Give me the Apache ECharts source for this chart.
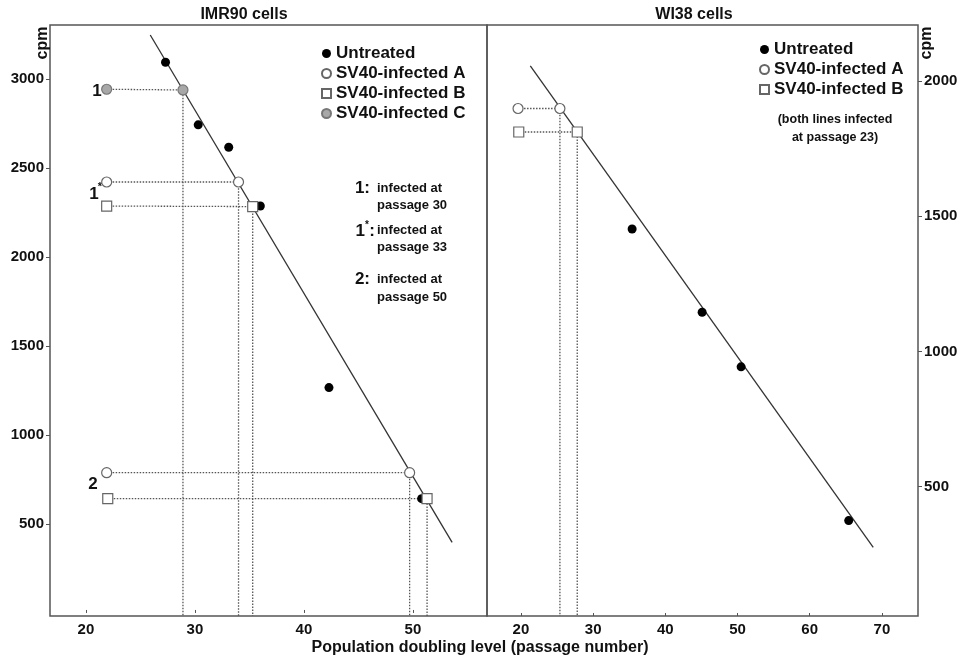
<!DOCTYPE html>
<html>
<head>
<meta charset="utf-8">
<script src="https://cdn.jsdelivr.net/npm/echarts@6/dist/echarts.min.js"></script>
<style>
  html, body { margin: 0; padding: 0; background: #fff; }
  #chart { width: 967px; height: 663px; }
</style>
</head>
<body>
<div id="chart"></div>
<script>
// IMR90 panel
const imrUntreatedX = [27.3, 30.3, 33.1, 36.0, 42.3, 50.8];
const imrUntreatedY = [3094, 2742, 2616, 2286, 1266, 642];
// each infected line: [reference point at left, measured point]
const imrInfectedA = [[[21.9, 2421], [34.0, 2421]], [[21.9, 788], [49.7, 788]]];
const imrInfectedB = [[[21.9, 2286], [35.3, 2283]], [[22.0, 642], [51.3, 642]]];
const imrInfectedC = [[[21.9, 2942], [28.9, 2938]]];
const imrFit = [[25.9, 3247], [53.6, 397]];

// WI38 panel
const wiUntreatedX = [35.4, 45.1, 50.5, 65.4];
const wiUntreatedY = [1453, 1145, 943, 374];
const wiInfectedA = [[[19.6, 1899], [25.4, 1899]]];
const wiInfectedB = [[[19.7, 1812], [27.8, 1812]]];
const wiFit = [[21.3, 2057], [68.8, 275]];

// ticks
const imrXTicks = [20, 30, 40, 50];
const imrYTicks = [500, 1000, 1500, 2000, 2500, 3000];
const wiXTicks = [20, 30, 40, 50, 60, 70];
const wiYTicks = [500, 1000, 1500, 2000];

const imrX = { min: 16.7, max: 56.8 }, imrY = { min: -17, max: 3303 };
const wiX = { min: 15.3, max: 75 }, wiY = { min: 21, max: 2208 };

const FONT = 'Liberation Sans, Arial, sans-serif';
const axisColor = '#555';
const textColor = '#111';

function zip(xs, ys) { return xs.map((x, i) => [x, ys[i]]); }

function dropLines(pairs, yMin) {
  // horizontal from reference point to measured point, then straight down to the axis
  return pairs.map(p => ({ coords: [p[0], p[1], [p[1][0], yMin]] }));
}

function xAxisOf(idx, range, ticks) {
  return {
    type: 'value', gridIndex: idx, min: range.min, max: range.max,
    axisLine: { show: false },
    axisTick: { show: true, inside: true, length: 3, customValues: ticks, lineStyle: { color: axisColor } },
    axisLabel: { customValues: ticks, margin: 6, color: textColor, fontFamily: FONT, fontWeight: 'bold', fontSize: 15,
      formatter: v => String(v) },
    splitLine: { show: false }
  };
}
function yAxisOf(idx, range, ticks, pos) {
  return {
    type: 'value', gridIndex: idx, min: range.min, max: range.max, position: pos,
    axisLine: { show: false },
    axisTick: { show: true, inside: false, length: 4, customValues: ticks, lineStyle: { color: axisColor } },
    axisLabel: { customValues: ticks, margin: 6, color: textColor, fontFamily: FONT, fontWeight: 'bold', fontSize: 15,
      formatter: v => String(v) },
    splitLine: { show: false }
  };
}

const openStyle = { color: '#fff', borderColor: '#666', borderWidth: 1.2, opacity: 1 };
const greyStyle = { color: '#a8a8a8', borderColor: '#777', borderWidth: 1.2, opacity: 1 };
const blackStyle = { color: '#000', opacity: 1 };
const dotLine = { color: '#555', width: 1.3, type: [1.5, 1.5], opacity: 1 };

function scatter(name, data, g, symbol, style, size) {
  return {
    name: name, type: 'scatter', xAxisIndex: g, yAxisIndex: g, data: data,
    symbol: symbol, symbolSize: size, itemStyle: style, z: 5
  };
}

const option = {
  animation: false,
  backgroundColor: '#fff',
  grid: [
    { left: 50, top: 25, width: 437, height: 591, show: true, borderColor: axisColor, borderWidth: 1.5, backgroundColor: 'transparent' },
    { left: 487, top: 25, width: 431, height: 591, show: true, borderColor: axisColor, borderWidth: 1.5, backgroundColor: 'transparent' }
  ],
  xAxis: [xAxisOf(0, imrX, imrXTicks), xAxisOf(1, wiX, wiXTicks)],
  yAxis: [yAxisOf(0, imrY, imrYTicks, 'left'), yAxisOf(1, wiY, wiYTicks, 'right')],
  legend: [
    {
      orient: 'vertical', left: 316, top: 40, itemWidth: 9, itemHeight: 9, itemGap: 3,
      textStyle: { color: textColor, fontFamily: FONT, fontWeight: 'bold', fontSize: 17 },
      data: ['Untreated', 'SV40-infected A', 'SV40-infected B', 'SV40-infected C'],
      selectedMode: false
    },
    {
      orient: 'vertical', left: 754, top: 36, itemWidth: 9, itemHeight: 9, itemGap: 3,
      textStyle: { color: textColor, fontFamily: FONT, fontWeight: 'bold', fontSize: 17 },
      data: ['Untreated', 'SV40-infected A', 'SV40-infected B'],
      selectedMode: false
    }
  ],
  series: [
    // IMR90
    { type: 'lines', coordinateSystem: 'cartesian2d', xAxisIndex: 0, yAxisIndex: 0, polyline: true, silent: true, z: 1,
      lineStyle: dotLine,
      data: dropLines(imrInfectedA.concat(imrInfectedB, imrInfectedC), imrY.min) },
    { type: 'line', xAxisIndex: 0, yAxisIndex: 0, data: imrFit, showSymbol: false, z: 2,
      lineStyle: { color: '#333', width: 1.3 } },
    scatter('Untreated', zip(imrUntreatedX, imrUntreatedY), 0, 'circle', blackStyle, 9),
    scatter('SV40-infected A', imrInfectedA.flat(), 0, 'circle', openStyle, 10),
    scatter('SV40-infected B', imrInfectedB.flat(), 0, 'rect', openStyle, 10),
    scatter('SV40-infected C', imrInfectedC.flat(), 0, 'circle', greyStyle, 10),
    // WI38
    { type: 'lines', coordinateSystem: 'cartesian2d', xAxisIndex: 1, yAxisIndex: 1, polyline: true, silent: true, z: 1,
      lineStyle: dotLine,
      data: dropLines(wiInfectedA.concat(wiInfectedB), wiY.min) },
    { type: 'line', xAxisIndex: 1, yAxisIndex: 1, data: wiFit, showSymbol: false, z: 2,
      lineStyle: { color: '#333', width: 1.3 } },
    scatter('Untreated', zip(wiUntreatedX, wiUntreatedY), 1, 'circle', blackStyle, 9),
    scatter('SV40-infected A', wiInfectedA.flat(), 1, 'circle', openStyle, 10),
    scatter('SV40-infected B', wiInfectedB.flat(), 1, 'rect', openStyle, 10)
  ],
  graphic: [
    { type: 'text', x: 244, y: 15, style: { text: 'IMR90 cells', font: 'bold 16px ' + FONT, fill: textColor, textAlign: 'center', textVerticalAlign: 'middle' } },
    { type: 'text', x: 694, y: 15, style: { text: 'WI38 cells', font: 'bold 16px ' + FONT, fill: textColor, textAlign: 'center', textVerticalAlign: 'middle' } },
    { type: 'text', x: 43, y: 43, rotation: Math.PI / 2, style: { text: 'cpm', font: 'bold 16px ' + FONT, fill: textColor, textAlign: 'center', textVerticalAlign: 'middle' } },
    { type: 'text', x: 927, y: 43, rotation: Math.PI / 2, style: { text: 'cpm', font: 'bold 16px ' + FONT, fill: textColor, textAlign: 'center', textVerticalAlign: 'middle' } },
    { type: 'text', x: 480, y: 648, style: { text: 'Population doubling level (passage number)', font: 'bold 16px ' + FONT, fill: textColor, textAlign: 'center', textVerticalAlign: 'middle' } },
    // labels next to reference points
    { type: 'text', x: 97, y: 91, style: { text: '1', font: 'bold 17px ' + FONT, fill: textColor, textAlign: 'center', textVerticalAlign: 'middle' } },
    { type: 'text', x: 94, y: 194, style: { text: '1', font: 'bold 17px ' + FONT, fill: textColor, textAlign: 'center', textVerticalAlign: 'middle' } },
    { type: 'text', x: 100, y: 187, style: { text: '*', font: 'bold 11px ' + FONT, fill: textColor, textAlign: 'center', textVerticalAlign: 'middle' } },
    { type: 'text', x: 93, y: 484, style: { text: '2', font: 'bold 17px ' + FONT, fill: textColor, textAlign: 'center', textVerticalAlign: 'middle' } },
    // notes
    { type: 'text', x: 370, y: 188, style: { text: '1:', font: 'bold 17px ' + FONT, fill: textColor, textAlign: 'right', textVerticalAlign: 'middle' } },
    { type: 'text', x: 377, y: 188, style: { text: 'infected at', font: 'bold 13px ' + FONT, fill: textColor, textAlign: 'left', textVerticalAlign: 'middle' } },
    { type: 'text', x: 377, y: 205, style: { text: 'passage 30', font: 'bold 13px ' + FONT, fill: textColor, textAlign: 'left', textVerticalAlign: 'middle' } },
    { type: 'text', x: 365, y: 231, style: { text: '1', font: 'bold 17px ' + FONT, fill: textColor, textAlign: 'right', textVerticalAlign: 'middle' } },
    { type: 'text', x: 367, y: 225, style: { text: '*', font: 'bold 10px ' + FONT, fill: textColor, textAlign: 'center', textVerticalAlign: 'middle' } },
    { type: 'text', x: 375, y: 231, style: { text: ':', font: 'bold 17px ' + FONT, fill: textColor, textAlign: 'right', textVerticalAlign: 'middle' } },
    { type: 'text', x: 377, y: 230, style: { text: 'infected at', font: 'bold 13px ' + FONT, fill: textColor, textAlign: 'left', textVerticalAlign: 'middle' } },
    { type: 'text', x: 377, y: 247, style: { text: 'passage 33', font: 'bold 13px ' + FONT, fill: textColor, textAlign: 'left', textVerticalAlign: 'middle' } },
    { type: 'text', x: 370, y: 279, style: { text: '2:', font: 'bold 17px ' + FONT, fill: textColor, textAlign: 'right', textVerticalAlign: 'middle' } },
    { type: 'text', x: 377, y: 279, style: { text: 'infected at', font: 'bold 13px ' + FONT, fill: textColor, textAlign: 'left', textVerticalAlign: 'middle' } },
    { type: 'text', x: 377, y: 297, style: { text: 'passage 50', font: 'bold 13px ' + FONT, fill: textColor, textAlign: 'left', textVerticalAlign: 'middle' } },
    { type: 'text', x: 835, y: 120, style: { text: '(both lines infected', font: 'bold 12.5px ' + FONT, fill: textColor, textAlign: 'center', textVerticalAlign: 'middle' } },
    { type: 'text', x: 835, y: 138, style: { text: 'at passage 23)', font: 'bold 12.5px ' + FONT, fill: textColor, textAlign: 'center', textVerticalAlign: 'middle' } }
  ]
};

const chart = echarts.init(document.getElementById('chart'));
chart.setOption(option);
</script>
</body>
</html>
